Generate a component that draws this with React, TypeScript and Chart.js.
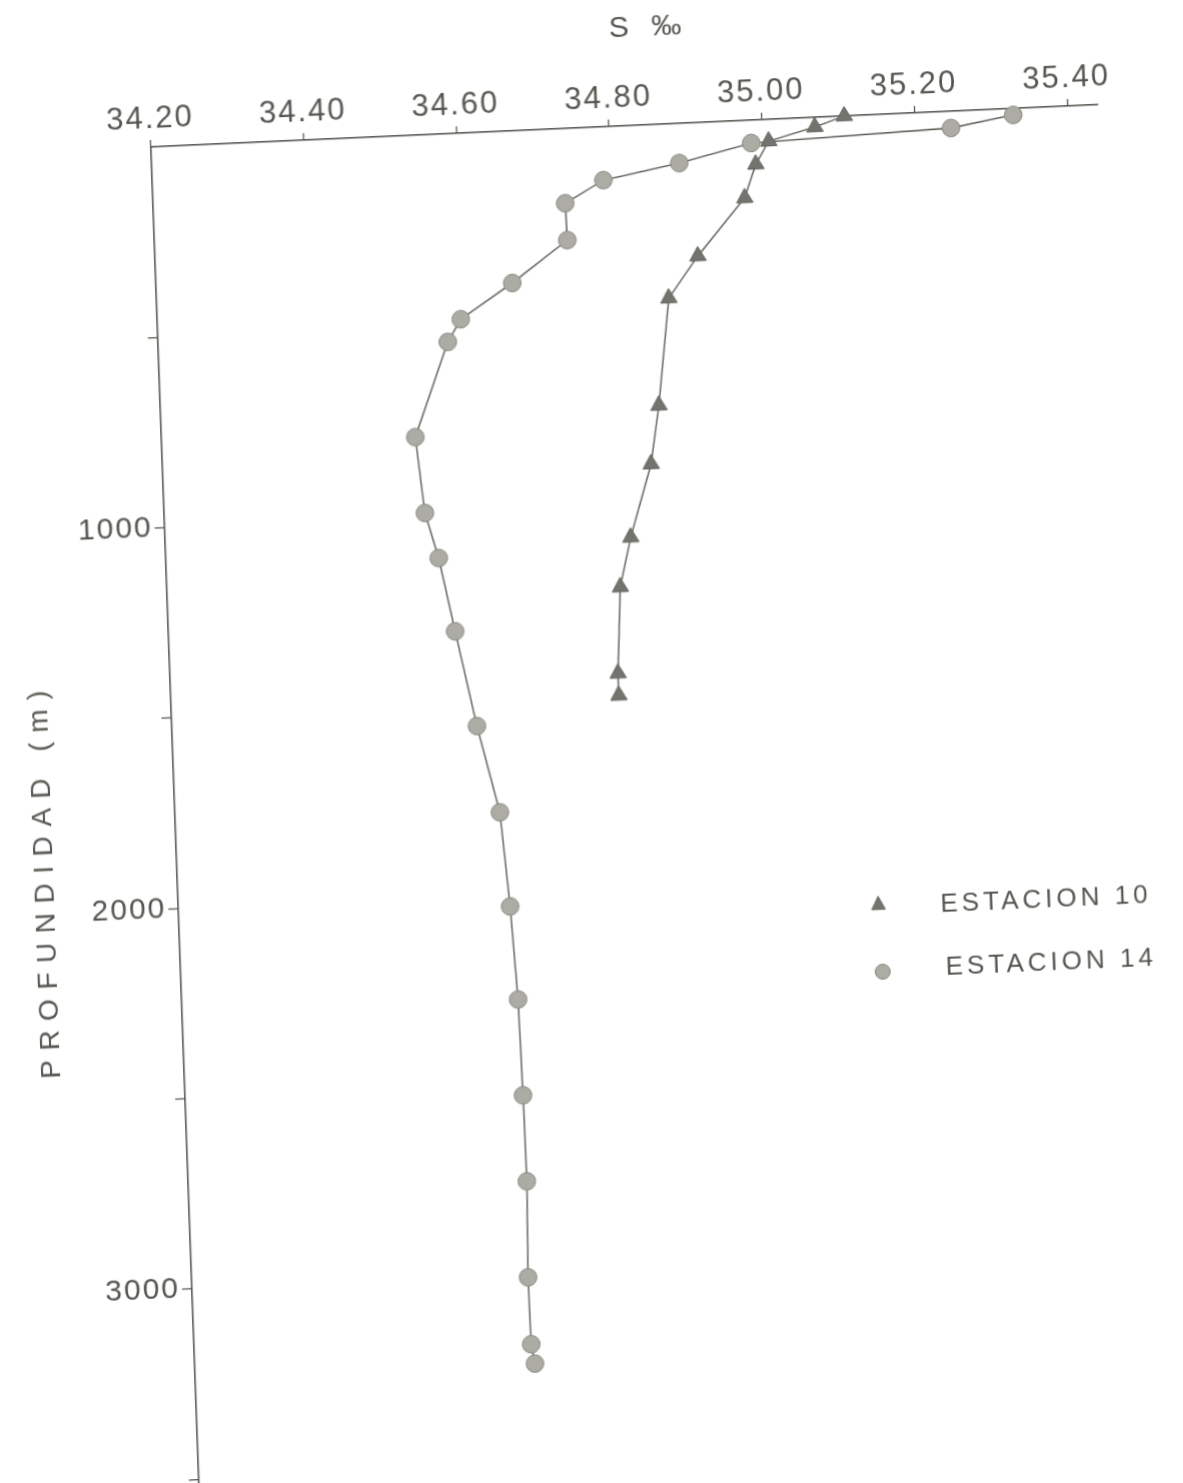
import React, { useEffect, useRef } from 'react';
import { Chart, registerables } from 'chart.js';

Chart.register(...registerables);

// ---- data ----
const SAL_TICKS = [34.2, 34.4, 34.6, 34.8, 35.0, 35.2, 35.4];
const DEPTH_TICKS = [500, 1000, 1500, 2000, 2500, 3000, 3500];
const DEPTH_LABELS = [1000, 2000, 3000];

const EST10_DEPTH = [0, 25, 57, 116, 203, 350, 457, 737, 890, 1080, 1209, 1435, 1493];
const EST10_SAL = [35.108, 35.069, 35.008, 34.99, 34.974, 34.91, 34.87, 34.852, 34.839, 34.809, 34.793, 34.786, 34.786];

const EST14_DEPTH = [17, 44, 60, 104, 140, 196, 293, 399, 488, 546, 792, 992, 1112, 1306, 1557, 1786, 2034, 2279, 2531, 2757, 3009, 3185, 3236];
const EST14_SAL = [35.329, 35.247, 34.985, 34.89, 34.79, 34.739, 34.74, 34.666, 34.597, 34.579, 34.532, 34.541, 34.557, 34.575, 34.599, 34.625, 34.634, 34.64, 34.642, 34.643, 34.64, 34.641, 34.645];

const TITLE_X = 'S ‰';
const TITLE_Y = 'PROFUNDIDAD (m)';
const LEGEND_LABELS = ['ESTACION 10', 'ESTACION 14'];

const INK = '#4b4b44';
const TEXT = '#55554f';
const TRI_FILL = '#74746e';
const TRI_EDGE = '#62625c';
const DOT_FILL = '#acaca5';
const DOT_EDGE = '#86867f';

const spacingPlugin = {
  id: 'sketchSpacing',
  beforeDraw(chart: any) {
    (chart.ctx as any).letterSpacing = '2px';
  },
};

const textPlugin = {
  id: 'sketchText',
  afterDraw(chart: any) {
    const ctx = chart.ctx as CanvasRenderingContext2D;
    ctx.save();
    ctx.fillStyle = TEXT;
    ctx.textBaseline = 'middle';
    // top title
    ctx.font = '30px "Liberation Sans"';
    ctx.textAlign = 'center';
    (ctx as any).letterSpacing = '7px';
    ctx.fillText(TITLE_X, 652, 50);
    // y title
    ctx.save();
    ctx.translate(19, 874);
    ctx.rotate(-Math.PI / 2);
    ctx.font = '28px "Liberation Sans"';
    (ctx as any).letterSpacing = '9.5px';
    ctx.fillText(TITLE_Y, 0, 0);
    ctx.restore();
    // legend
    const pos = [
      { mx: 850, my: 936, tx: 912, ty: 939 },
      { mx: 852, my: 1003, tx: 915, ty: 1002 },
    ];
    chart.data.datasets.forEach((ds: any, i: number) => {
      const p = pos[i];
      ctx.save();
      ctx.fillStyle = ds.pointBackgroundColor;
      ctx.strokeStyle = ds.pointBorderColor;
      ctx.lineWidth = 1;
      ctx.beginPath();
      if (ds.pointStyle === 'triangle') {
        const r = 8.5;
        ctx.moveTo(p.mx, p.my - r);
        ctx.lineTo(p.mx + r * 0.8, p.my + r * 0.55);
        ctx.lineTo(p.mx - r * 0.8, p.my + r * 0.55);
        ctx.closePath();
      } else {
        ctx.arc(p.mx, p.my, 7.5, 0, Math.PI * 2);
      }
      ctx.fill();
      ctx.stroke();
      ctx.restore();
      ctx.font = '26px "Liberation Sans"';
      ctx.textAlign = 'left';
      (ctx as any).letterSpacing = '4px';
      ctx.fillStyle = TEXT;
      ctx.fillText(LEGEND_LABELS[i], p.tx, p.ty);
    });
    ctx.restore();
  },
};

export default function App() {
  const ref = useRef<HTMLCanvasElement | null>(null);

  useEffect(() => {
    if (!ref.current) return;
    const chart = new Chart(ref.current, {
      type: 'scatter',
      data: {
        datasets: [
          {
            label: LEGEND_LABELS[0],
            data: EST10_SAL.map((s, i) => ({ x: s, y: EST10_DEPTH[i] })),
            showLine: true,
            borderColor: INK,
            borderWidth: 1.3,
            pointStyle: 'triangle',
            pointRadius: 9.5,
            pointBackgroundColor: TRI_FILL,
            pointBorderColor: TRI_EDGE,
            pointBorderWidth: 1,
            clip: false,
          } as any,
          {
            label: LEGEND_LABELS[1],
            data: EST14_SAL.map((s, i) => ({ x: s, y: EST14_DEPTH[i] })),
            showLine: true,
            borderColor: INK,
            borderWidth: 1.3,
            pointStyle: 'circle',
            pointRadius: 8.8,
            pointBackgroundColor: DOT_FILL,
            pointBorderColor: DOT_EDGE,
            pointBorderWidth: 1,
            clip: false,
          } as any,
        ],
      },
      options: {
        animation: false,
        responsive: false,
        events: [],
        layout: { padding: { left: 0, top: 0, right: 85.3, bottom: 0 } },
        plugins: { legend: { display: false }, tooltip: { enabled: false }, title: { display: false } },
        scales: {
          x: {
            type: 'linear',
            position: 'top',
            min: 34.2,
            max: 35.44,
            afterBuildTicks: (a: any) => {
              a.ticks = SAL_TICKS.map((v) => ({ value: v }));
            },
            afterFit: (a: any) => {
              a.height = 147;
            },
            ticks: {
              autoSkip: false,
              maxRotation: 0,
              padding: 2,
              color: TEXT,
              font: { family: 'Liberation Sans', size: 31 },
              callback: (v: any) => Number(v).toFixed(2),
            },
            grid: { drawOnChartArea: false, drawTicks: true, tickLength: 7, color: INK, lineWidth: 1.2 },
            border: { display: true, color: INK, width: 1.5 },
          },
          y: {
            type: 'linear',
            reverse: true,
            min: 0,
            max: 3510,
            afterBuildTicks: (a: any) => {
              a.ticks = DEPTH_TICKS.map((v) => ({ value: v }));
            },
            afterFit: (a: any) => {
              a.width = 151;
            },
            ticks: {
              autoSkip: false,
              padding: 2,
              color: TEXT,
              font: { family: 'Liberation Sans', size: 30, lineHeight: 1.2 },
              callback: (v: any) => (DEPTH_LABELS.includes(Number(v)) ? String(v) : ''),
            },
            grid: { drawOnChartArea: false, drawTicks: true, tickLength: 10, color: INK, lineWidth: 1.2 },
            border: { display: true, color: INK, width: 1.5 },
          },
        },
      } as any,
      plugins: [spacingPlugin, textPlugin],
    });
    return () => chart.destroy();
  }, []);

  return (
    <div
      style={{
        position: 'absolute',
        left: 0,
        top: 0,
        width: 1183,
        height: 1483,
        overflow: 'hidden',
        background: '#ffffff',
      }}
    >
      <canvas
        ref={ref}
        width={1183}
        height={1503}
        style={{
          position: 'absolute',
          left: 0,
          top: 0,
          transformOrigin: '151px 147px',
          transform: 'matrix(1, -0.0447, 0.0359, 1, 0, 0)',
        }}
      />
    </div>
  );
}
